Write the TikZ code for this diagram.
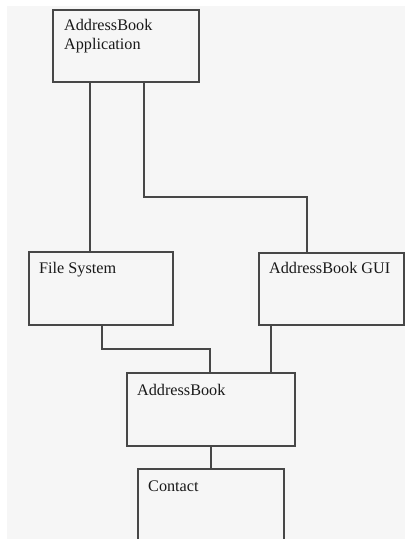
\documentclass[tikz,border=0pt]{standalone}
\usepackage{fontspec}
\setmainfont{Liberation Serif}
\usetikzlibrary{calc}
\definecolor{paper}{HTML}{F6F6F6}
\definecolor{ink}{HTML}{474747}
\tikzset{
  box/.style={draw=ink, line width=1.4pt, fill=paper, rectangle,
    anchor=north west, inner sep=0pt, outer sep=0pt,
    minimum width=#1},
  box/.default=146pt,
  caption/.style={anchor=base west, inner sep=0pt, text=black!90,
    font=\fontsize{16.2}{18.5}\selectfont, align=left},
  wire/.style={draw=ink, line width=1.4pt}
}
\begin{document}
\begin{tikzpicture}[x=1pt, y=-1pt]
  % page and grey canvas
  \fill[white] (0,0) rectangle (405,539);
  \useasboundingbox (0,0) rectangle (405,539);
  \clip (0,0) rectangle (405,539);
  \fill[paper] (7,6) rectangle (405,539);

  % components
  \node[box, minimum height=72pt] (app) at (53,10) {};
  \node[box=144pt, minimum height=73pt] (fs) at (29,252) {};
  \node[box=145pt, minimum height=72pt] (gui) at (259,253) {};
  \node[box=168pt, minimum height=73pt] (ab) at (127,373) {};
  \node[box, minimum height=100pt] (contact) at (138,469) {};

  % captions (first baseline about 20pt below the top edge)
  \node[caption, anchor=north west, yshift=-9.5pt] (appT) at ($(app.north west)+(11,0)$) {AddressBook\\Application};
  \node[caption] (fsT) at ($(fs.north west)+(10,21)$) {File System};
  \node[caption] (guiT) at ($(gui.north west)+(10,20)$) {AddressBook GUI};
  \node[caption] (abT) at ($(ab.north west)+(10,22)$) {AddressBook};
  \node[caption] (contactT) at ($(contact.north west)+(10,22)$) {Contact};

  % connections
  \draw[wire] ([xshift=37pt]app.south west) -- ([xshift=37pt]app.south west |- fs.north);
  \draw[wire] ([xshift=91pt]app.south west) -- ++(0,115) -| ([xshift=48pt]gui.north west);
  \draw[wire] ([xshift=73pt]fs.south west) -- ++(0,24) -| ([xshift=83pt]ab.north west);
  \draw[wire] ([xshift=12pt]gui.south west) -- ([xshift=12pt]gui.south west |- ab.north);
  \draw[wire] ([xshift=84pt]ab.south west) -- ([xshift=84pt]ab.south west |- contact.north);
\end{tikzpicture}
\end{document}
